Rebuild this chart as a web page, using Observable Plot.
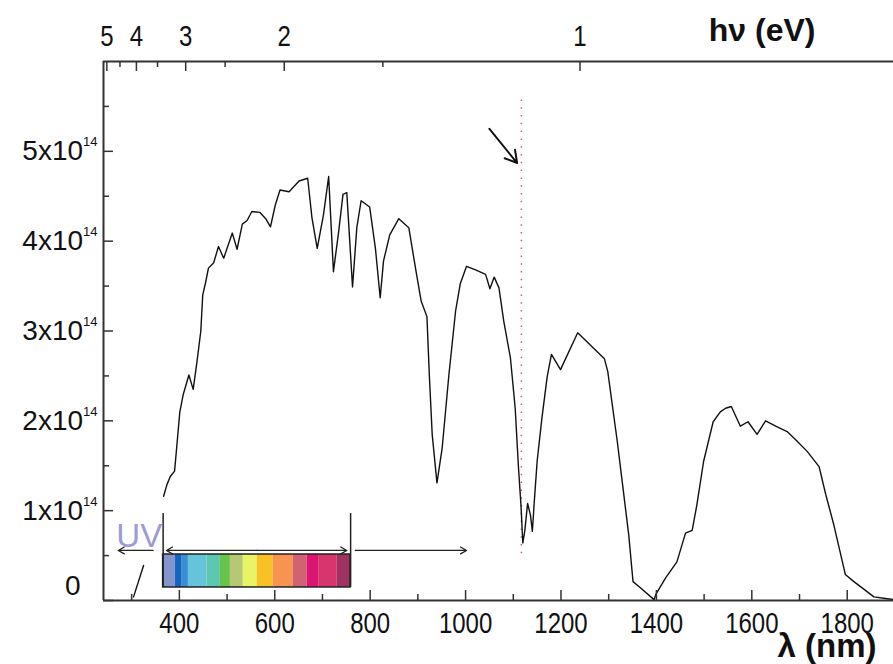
<!DOCTYPE html>
<html><head><meta charset="utf-8">
<script src="https://cdn.jsdelivr.net/npm/d3@7"></script>
<script src="https://cdn.jsdelivr.net/npm/@observablehq/plot@0.6"></script>
<style>
html,body{margin:0;padding:0;background:#fff;}
#chart{width:893px;height:664px;}
</style></head><body><div id="chart"></div>
<script>
// Solar spectral photon flux (units of 1e14)
const wavelength = [367,374,381,390,395,401,408,420,429,437,445,449,455,461,472,482,493,511,521,532,542,552,569,581,591,601,611,630,651,669,678,689,702,713,723,734,743,751,763,772,781,799,811,821,828,841,860,881,895,907,919,924,930,940,951,965,979,989,1002,1021,1042,1051,1060,1070,1080,1094,1104,1111,1116,1120,1124,1130,1136,1140,1144,1150,1160,1171,1180,1199,1235,1291,1298,1318,1330,1342,1351,1367,1395,1400,1419,1443,1461,1475,1485,1499,1519,1534,1545,1557,1576,1592,1611,1629,1650,1674,1692,1716,1741,1755,1772,1796,1814,1856,1884,1897];
const flux = [1.16,1.29,1.38,1.44,1.74,2.10,2.29,2.51,2.35,2.66,3.00,3.40,3.54,3.70,3.76,3.94,3.81,4.09,3.91,4.19,4.23,4.33,4.32,4.25,4.16,4.40,4.57,4.55,4.67,4.70,4.26,3.92,4.29,4.72,3.66,4.11,4.52,4.54,3.49,4.15,4.45,4.38,3.92,3.37,3.78,4.07,4.25,4.15,3.70,3.33,3.16,2.51,1.85,1.31,1.70,2.51,3.22,3.53,3.72,3.68,3.63,3.47,3.60,3.48,3.11,2.70,2.14,1.47,1.07,0.64,0.77,1.08,0.95,0.77,1.10,1.55,2.03,2.49,2.74,2.57,2.98,2.69,2.55,1.77,1.25,0.73,0.21,0.14,0.01,0.08,0.25,0.43,0.75,0.78,1.07,1.55,1.99,2.10,2.14,2.16,1.94,1.99,1.85,2.00,1.94,1.88,1.79,1.66,1.49,1.18,0.84,0.29,0.21,0.04,0.02,0.01];
const uvWavelength = [304, 325];
const uvFlux = [0.04, 0.39];

const xDomain = [241, 1897];
const yDomain = [0, 6];
const xTicks = [400, 600, 800, 1000, 1200, 1400, 1600, 1800];
const xMinor = [300, 500, 700, 900, 1100, 1300, 1500, 1700];
const yTicks = [0, 1, 2, 3, 4, 5];
const yMinor = [0.5, 1.5, 2.5, 3.5, 4.5, 5.5];
const eVTicks = [1, 2, 3, 4, 5];
const eVMinor = [1.5, 2.5, 3.5, 4.5];

// visible spectrum bar
const bandStart = [366, 392, 406, 419, 458, 486, 507, 534, 563, 597, 639, 668, 692, 731];
const bandEnd   = [392, 406, 419, 458, 486, 507, 534, 563, 597, 639, 668, 692, 731, 759];
const bandColor = ["#8494cc", "#1463c0", "#3a8ed2", "#66c4da", "#5cc8b0", "#66c448", "#b6c874", "#e8f466", "#f8c226", "#f89452", "#d06272", "#dc1472", "#d8346e", "#a03262"];
const barRange = [0.145, 0.512];
const visibleEdges = [366, 759];
const edgeRange = [0.145, 0.968];
const arrowLevel = 0.557;
const arrowFrom = [345, 562, 562, 769];
const arrowTo   = [272, 373, 751, 1002];
const uvLabel = {x: 316, y: 0.6, text: "UV"};

// silicon band gap marker
const gapWavelength = [1117];
const gapRange = [0.52, 5.58];
const pointerFrom = [1050, 5.25];
const pointerTo = [1108, 4.87];

const SANS = "'Liberation Sans',Arial,sans-serif";
const curve = wavelength.map((w, i) => ({w, f: flux[i]}));
const uv = uvWavelength.map((w, i) => ({w, f: uvFlux[i]}));
const bands = bandStart.map((s, i) => ({s, e: bandEnd[i], c: bandColor[i]}));
const arrows = arrowFrom.map((a, i) => ({a, b: arrowTo[i]}));
const eVPos = eVTicks.map(e => 1239.84 / e);
const eVMinorPos = eVMinor.map(e => 1239.84 / e);
const eVLabel = new Map(eVPos.map((p, i) => [p, String(eVTicks[i])]));

const W = 893, H = 664, mL = 103, mR = 0, mT = 61, mB = 64;
const innerW = W - mL - mR, innerH = H - mT - mB;
const AX = "#333";

const svg = Plot.plot({
  width: W, height: H,
  marginLeft: mL, marginRight: mR, marginTop: mT, marginBottom: mB,
  style: {background: "#fff", fontFamily: SANS, color: "#111"},
  x: {domain: xDomain},
  y: {domain: yDomain},
  marks: [
    // spectrum bar
    Plot.rect(bands, {x1: "s", x2: "e", y1: barRange[0], y2: barRange[1], fill: "c"}),
    Plot.rect([0], {x1: visibleEdges[0], x2: visibleEdges[1], y1: barRange[0], y2: barRange[1], stroke: "#222", strokeWidth: 1.5, fill: "none"}),
    Plot.ruleX(visibleEdges, {y1: edgeRange[0], y2: edgeRange[1], stroke: "#222", strokeWidth: 1.5}),
    Plot.arrow(arrows, {x1: "a", x2: "b", y1: arrowLevel, y2: arrowLevel, stroke: "#222", strokeWidth: 1.3, headLength: 8}),
    Plot.text([uvLabel], {x: "x", y: "y", text: "text", fill: "#9c9cd4", fontSize: 33, fontFamily: SANS, lineAnchor: "bottom", textAnchor: "middle"}),
    // band gap marker
    Plot.ruleX(gapWavelength, {y1: gapRange[0], y2: gapRange[1], stroke: "#b86a6a", strokeWidth: 1.5, strokeDasharray: "1.5,6.3"}),
    Plot.arrow([0], {x1: pointerFrom[0], y1: pointerFrom[1], x2: pointerTo[0], y2: pointerTo[1], stroke: "#111", strokeWidth: 2, headLength: 10}),
    // curve
    Plot.line(uv, {x: "w", y: "f", stroke: "#111", strokeWidth: 1.4}),
    Plot.line(curve, {x: "w", y: "f", stroke: "#111", strokeWidth: 1.4}),
    // axis lines
    Plot.ruleY([yDomain[0]], {stroke: AX, strokeWidth: 2}),
    Plot.ruleY([yDomain[1]], {stroke: AX, strokeWidth: 2}),
    Plot.ruleX([xDomain[0]], {stroke: AX, strokeWidth: 2}),
    // inward ticks
    Plot.tickX(xTicks, {insetTop: innerH - 10, stroke: AX, strokeWidth: 1.5}),
    Plot.tickX(xMinor, {insetTop: innerH - 6, stroke: AX, strokeWidth: 1.5}),
    Plot.tickY(yTicks, {insetRight: innerW - 10, stroke: AX, strokeWidth: 1.5}),
    Plot.tickY(yMinor, {insetRight: innerW - 6, stroke: AX, strokeWidth: 1.5}),
    Plot.tickX(eVPos, {insetBottom: innerH - 10, stroke: AX, strokeWidth: 1.5}),
    Plot.tickX(eVMinorPos, {insetBottom: innerH - 6, stroke: AX, strokeWidth: 1.5}),
    // axes labels
    Plot.axisX(xTicks, {anchor: "bottom", tickSize: 0, tickPadding: 12, fontSize: 24, fontFamily: SANS, tickFormat: d => String(d), label: null, fill: "#111"}),
    Plot.axisX(eVPos, {anchor: "top", tickSize: 0, tickPadding: 16, fontSize: 24, fontFamily: SANS, tickFormat: d => eVLabel.get(d), label: null, fill: "#111"}),
    Plot.axisY(yTicks, {anchor: "left", tickSize: 0, tickPadding: 6, fontSize: 28, fontFamily: SANS, tickFormat: d => d === 0 ? "0" : `${d}x10^14`, label: null, fill: "#111"}),
    Plot.text(["hν (eV)"], {frameAnchor: "top-right", dx: -78, dy: -21, textAnchor: "end", lineAnchor: "bottom", fontSize: 32, fontWeight: "bold", fontFamily: SANS, fill: "#111"}),
    Plot.text(["λ (nm)"], {frameAnchor: "bottom-right", dx: -17, dy: 56, textAnchor: "end", lineAnchor: "bottom", fontSize: 33, fontWeight: "bold", fontFamily: SANS, fill: "#111"})
  ]
});

// superscript exponents on the y tick labels
d3.select(svg).selectAll('g[aria-label="y-axis tick label"] text').each(function() {
  const t = d3.select(this);
  const s = t.text();
  if (s.includes("^")) {
    const [base, exp] = s.split("^");
    t.text(base);
    t.append("tspan").attr("dy", -14).attr("font-size", 13).text(exp);
  } else if (s === "0") {
    t.attr("dx", -17).attr("dy", -14);
  }
});
// the figure's digits are taller than they are wide: stretch x tick labels vertically
d3.select(svg).selectAll('g[aria-label="x-axis tick label"] text').each(function() {
  const t = d3.select(this);
  const tr = t.attr("transform");
  if (tr) {
    t.attr("transform", tr + " scale(1,1.2)");
  } else {
    const x = +t.attr("x") || 0, y = +t.attr("y") || 0;
    t.attr("x", null).attr("y", null).attr("transform", `translate(${x},${y}) scale(1,1.2)`);
  }
});

document.getElementById("chart").appendChild(svg);
</script></body></html>
